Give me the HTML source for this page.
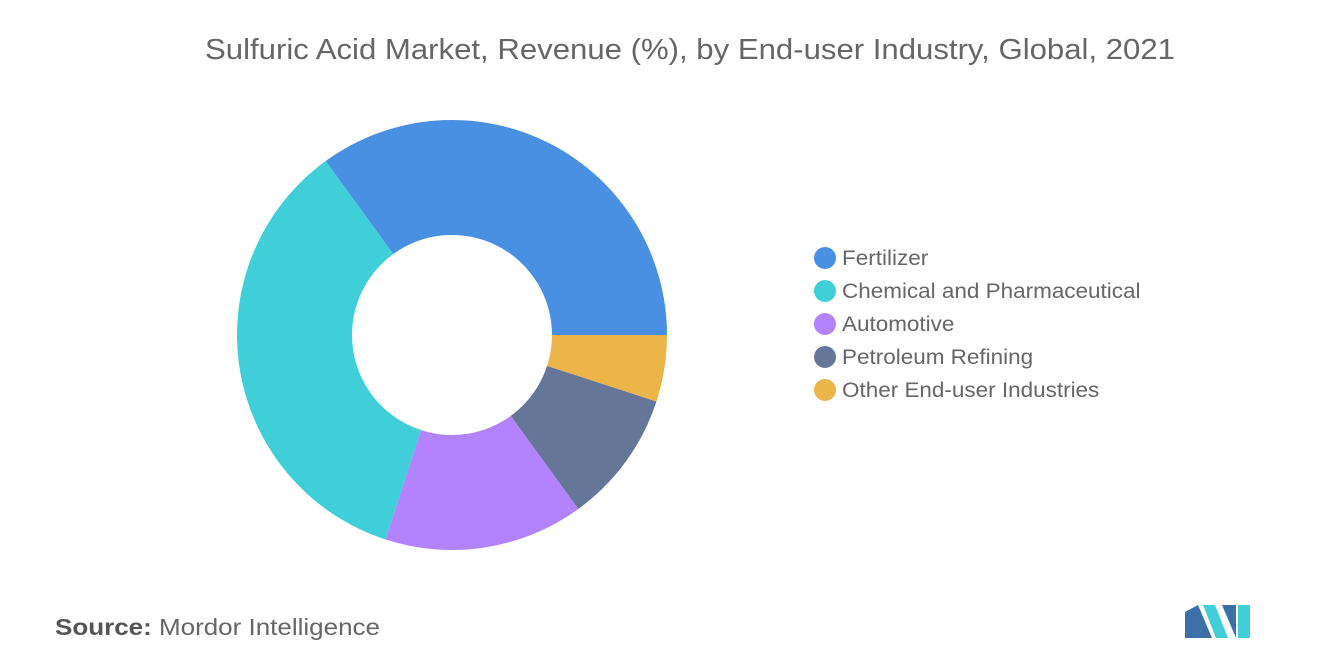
<!DOCTYPE html>
<html><head><meta charset="utf-8"><style>
body{margin:0;background:#fff;font-family:"Liberation Sans",sans-serif;}
svg text{font-family:"Liberation Sans",sans-serif;}
</style></head><body>
<svg width="1320" height="665" xmlns="http://www.w3.org/2000/svg">
<text x="205" y="59" font-size="29" fill="#666" textLength="970" lengthAdjust="spacingAndGlyphs">Sulfuric Acid Market, Revenue (%), by End-user Industry, Global, 2021</text>
<g id="donut"></g>
<g id="legend"></g>
<text x="55" y="635" font-size="23" fill="#666" textLength="325" lengthAdjust="spacingAndGlyphs"><tspan font-weight="bold" fill="#555">Source:</tspan>  Mordor Intelligence</text>
<g>
<polygon points="1185,638 1185,612 1198,605 1212,638" fill="#3d6fa8"/>
<polygon points="1203,605 1215,605 1228,638 1216,638" fill="#40cfd9"/>
<polygon points="1222,605 1236,605 1236,638" fill="#3d6fa8"/>
<polygon points="1238,605 1250,605 1250,638 1238,638" fill="#40cfd9"/>
</g>
</svg>
<script>
const categories=["Fertilizer","Chemical and Pharmaceutical","Automotive","Petroleum Refining","Other End-user Industries"];
const values=[35,35,15,10,5];
const colors=["#4a90e2","#40cfd9","#b283fd","#657699","#ebb54a"];
const NS="http://www.w3.org/2000/svg";
const cx=452,cy=335,R=215,r=100;
const total=values.reduce((a,b)=>a+b,0);
const pt=(rad,a)=>[cx+rad*Math.cos(a),cy-rad*Math.sin(a)];
let a0=0;
const donut=document.getElementById('donut');
values.forEach((v,i)=>{
  const a1=a0+v/total*2*Math.PI;
  const large=(a1-a0)>Math.PI?1:0;
  const [x0,y0]=pt(R,a0),[x1,y1]=pt(R,a1),[x2,y2]=pt(r,a1),[x3,y3]=pt(r,a0);
  const p=document.createElementNS(NS,'path');
  p.setAttribute('d',`M${x0},${y0} A${R},${R} 0 ${large} 0 ${x1},${y1} L${x2},${y2} A${r},${r} 0 ${large} 1 ${x3},${y3} Z`);
  p.setAttribute('fill',colors[i]);
  
  
  donut.appendChild(p);
  a0=a1;
});
const legend=document.getElementById('legend');
categories.forEach((c,i)=>{
  const y=258+i*33;
  const g=document.createElementNS(NS,'g');
  
  
  const ci=document.createElementNS(NS,'circle');
  ci.setAttribute('cx',825);ci.setAttribute('cy',y);ci.setAttribute('r',11);ci.setAttribute('fill',colors[i]);
  const t=document.createElementNS(NS,'text');
  t.setAttribute('x',842);t.setAttribute('y',y+7);t.setAttribute('font-size',21);t.setAttribute('fill','#666');
  t.textContent=c;
  g.appendChild(ci);g.appendChild(t);legend.appendChild(g);
  const w=t.getComputedTextLength();
  t.setAttribute('textLength',(w*1.07).toFixed(1));
  t.setAttribute('lengthAdjust','spacingAndGlyphs');
});
</script>
</body></html>
